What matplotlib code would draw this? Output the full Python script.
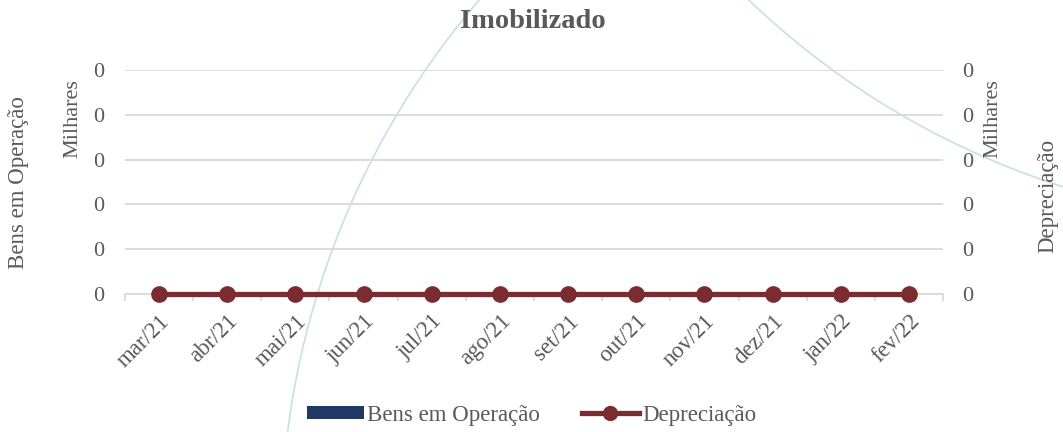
import numpy as np
import matplotlib
matplotlib.use("Agg")
import matplotlib.pyplot as plt
from matplotlib.patches import Arc, Patch
from matplotlib.lines import Line2D
from matplotlib.ticker import FuncFormatter

# Data
meses = ["mar/21", "abr/21", "mai/21", "jun/21", "jul/21", "ago/21",
         "set/21", "out/21", "nov/21", "dez/21", "jan/22", "fev/22"]
bens_operacao = [0, 0, 0, 0, 0, 0, 0, 0, 0, 0, 0, 0]
depreciacao = [0, 0, 0, 0, 0, 0, 0, 0, 0, 0, 0, 0]
y_ticks = [0, 100, 200, 300, 400, 500]

# Colours
cor_texto = "#595959"
cor_grade = "#d9d9d9"
cor_bens = "#1f3864"
cor_dep = "#7b2c30"
cor_arco = "#c6e0ea"

plt.rcParams["font.family"] = ["Liberation Serif", "DejaVu Serif"]
fs = 16

fig = plt.figure(figsize=(10.63, 4.32), dpi=100)

# Decorative background arcs (pixel space of the figure)
bg = fig.add_axes([0, 0, 1, 1], zorder=0)
bg.set_xlim(0, 1063)
bg.set_ylim(432, 0)
bg.axis("off")
bg.add_patch(Arc((1105, 536), 2 * 824, 2 * 824, theta1=180, theta2=260,
                 color=cor_arco, lw=1.2))
bg.add_patch(Arc((1309, -585), 2 * 810, 2 * 810, theta1=90, theta2=180,
                 color=cor_arco, lw=1.2))

ax = fig.add_axes([125 / 1063, 138 / 432, 818 / 1063, 224 / 432], zorder=1)
ax.patch.set_alpha(0)
ax2 = ax.twinx()

x = np.arange(len(meses))
ax.bar(x, bens_operacao, width=0.6, color=cor_bens, label="Bens em Operação")
ax2.plot(x, depreciacao, color=cor_dep, lw=3.8, marker="o", markersize=11,
         label="Depreciação", clip_on=False, zorder=5)

fmt = FuncFormatter(lambda v, p: f"{v / 1000:.0f}")
for a in (ax, ax2):
    a.set_ylim(0, 500)
    a.set_yticks(y_ticks)
    a.yaxis.set_major_formatter(fmt)
    a.set_xlim(-0.5, len(meses) - 0.5)
    for s in a.spines.values():
        s.set_visible(False)
    a.tick_params(axis="y", length=0, labelsize=fs, labelcolor=cor_texto)
ax.tick_params(axis="y", pad=15)
ax2.tick_params(axis="y", pad=14)

ax.grid(axis="y", color=cor_grade, lw=1.3)
ax.set_axisbelow(True)
ax.spines["bottom"].set_visible(True)
ax.spines["bottom"].set_color(cor_grade)
ax.spines["bottom"].set_linewidth(1.3)

# category ticks between the groups
ax.set_xticks(np.arange(-0.5, len(meses), 1.0))
ax.set_xticklabels([])
ax.set_xticks(x, minor=True)
ax.set_xticklabels(meses, minor=True, rotation=45, ha="right", va="top",
                   rotation_mode="anchor")
ax.tick_params(axis="x", which="major", length=5, color=cor_grade, width=1.3)
ax.tick_params(axis="x", which="minor", length=0, labelsize=fs + 0.5,
               labelcolor=cor_texto, pad=12)

# axis titles
fig.text(19 / 1063, 1 - 183 / 432, "Bens em Operação", rotation=90,
         ha="center", va="center", fontsize=fs + 0.5, color=cor_texto)
fig.text(73 / 1063, 1 - 119 / 432, "Milhares", rotation=90,
         ha="center", va="center", fontsize=fs, color=cor_texto)
fig.text(993 / 1063, 1 - 119 / 432, "Milhares", rotation=90,
         ha="center", va="center", fontsize=fs, color=cor_texto)
fig.text(1048 / 1063, 1 - 196 / 432, "Depreciação", rotation=90,
         ha="center", va="center", fontsize=fs + 0.5, color=cor_texto)

fig.text(533 / 1063, 1 - 21 / 432, "Imobilizado", ha="center", va="center",
         fontsize=20.5, fontweight="bold", color=cor_texto)

handles = [Patch(facecolor=cor_bens, label="Bens em Operação"),
           Line2D([], [], color=cor_dep, lw=3.8, marker="o", markersize=10,
                  label="Depreciação")]
fig.legend(handles=handles, loc="center", bbox_to_anchor=(0.5, 1 - 415 / 432),
           ncol=2, frameon=False, fontsize=fs + 0.5, handlelength=2.5,
           handleheight=0.5, handletextpad=0.15, columnspacing=1.8,
           labelcolor=cor_texto)

fig.savefig("out.png", dpi=100)
